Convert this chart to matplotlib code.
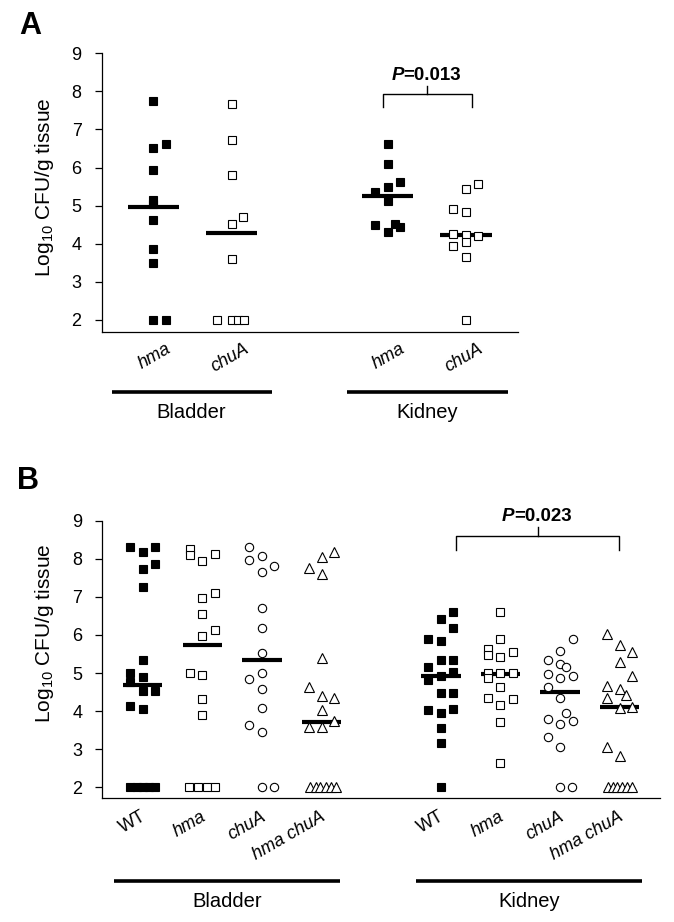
import matplotlib
matplotlib.use("Agg")
import matplotlib.pyplot as plt
import numpy as np

plt.rcParams['font.family'] = ['Liberation Sans', 'DejaVu Sans']
plt.rcParams['mathtext.fontset'] = 'custom'
plt.rcParams['mathtext.rm'] = 'Liberation Sans'
plt.rcParams['mathtext.it'] = 'Liberation Sans:italic'
plt.rcParams['mathtext.bf'] = 'Liberation Sans:bold'

# ---------------- Panel A data ----------------
a_groups = ["hma", "chuA", "hma", "chuA"]
a_organs = ["Bladder", "Kidney"]
a_positions = [0, 1, 3, 4]
a_markers = ["s_filled", "s_open", "s_filled", "s_open"]

a_bladder_hma = [7.75, 6.52, 6.61, 5.94, 5.15, 5.05, 4.62, 3.86, 3.50, 2.0, 2.0]
a_bladder_hma_dx = [0, 0, 0.16, 0, 0, 0, 0, 0, 0, 0, 0.16]
a_bladder_chua = [7.66, 6.72, 5.81, 4.52, 4.69, 3.60, 2.0, 2.0, 2.0, 2.0]
a_bladder_chua_dx = [0, 0, 0, 0, 0.15, 0, -0.18, 0, 0.08, 0.16]
a_kidney_hma = [6.62, 6.09, 5.50, 5.63, 5.35, 5.12, 4.50, 4.32, 4.52, 4.45]
a_kidney_hma_dx = [0, 0, 0, 0.16, -0.16, 0, -0.16, 0, 0.09, 0.16]
a_kidney_chua = [5.44, 5.56, 4.91, 4.82, 4.25, 4.22, 4.19, 3.95, 4.04, 3.66, 2.0]
a_kidney_chua_dx = [0, 0.16, -0.16, 0, -0.16, 0, 0.16, -0.16, 0, 0, 0]
a_medians = [4.96, 4.29, 5.26, 4.22]
a_pvalue = "0.013"

# ---------------- Panel B data ----------------
b_groups = ["WT", "hma", "chuA", "hma chuA", "WT", "hma", "chuA", "hma chuA"]
b_organs = ["Bladder", "Kidney"]
b_positions = [0, 1, 2, 3, 5, 6, 7, 8]

b_bladder_wt = [8.30, 8.30, 8.19, 7.86, 7.73, 7.26, 5.33, 5.01, 4.89, 4.77, 4.53, 4.53, 4.14, 4.05,
                2.0, 2.0, 2.0, 2.0, 2.0]
b_bladder_wt_dx = [-0.21, 0.21, 0, 0.21, 0, 0, 0, -0.21, 0, -0.21, 0, 0.21, -0.21, 0,
                   -0.21, -0.1, 0, 0.1, 0.21]
b_bladder_hma = [8.25, 8.10, 7.93, 8.13, 6.98, 7.09, 6.56, 5.97, 6.14, 4.99, 4.95, 4.33, 3.89,
                 2.0, 2.0, 2.0, 2.0]
b_bladder_hma_dx = [-0.21, -0.21, 0, 0.21, 0, 0.21, 0, 0, 0.21, -0.21, 0, 0, 0,
                    -0.22, -0.07, 0.07, 0.22]
b_bladder_chua = [8.32, 8.07, 7.96, 7.81, 7.64, 6.70, 6.19, 5.52, 5.01, 4.84, 4.57, 4.08, 3.63, 3.46,
                  2.0, 2.0]
b_bladder_chua_dx = [-0.21, 0, -0.21, 0.21, 0, 0, 0, 0, 0, -0.21, 0, 0, -0.21, 0,
                     0, 0.2]
b_bladder_hmachua = [8.17, 8.04, 7.77, 7.59, 5.39, 4.62, 4.40, 4.34, 4.03, 3.75, 3.59, 3.58,
                     2.0, 2.0, 2.0, 2.0, 2.0, 2.0]
b_bladder_hmachua_dx = [0.21, 0, -0.21, 0, 0, -0.21, 0, 0.21, 0, 0.21, -0.21, 0,
                        -0.19, -0.1, -0.02, 0.07, 0.16, 0.25]
b_kidney_wt = [6.60, 6.42, 6.18, 5.89, 5.85, 5.34, 5.34, 5.15, 4.82, 4.91, 5.02, 4.47, 4.47,
               4.03, 3.96, 4.05, 3.55, 3.16, 2.0]
b_kidney_wt_dx = [0.21, 0, 0.21, -0.21, 0, 0, 0.21, -0.21, -0.21, 0, 0.21, 0, 0.21,
                  -0.21, 0, 0.21, 0, 0, 0]
b_kidney_hma = [6.60, 5.90, 5.62, 5.48, 5.43, 5.55, 5.01, 4.99, 4.99, 4.86, 4.63, 4.34, 4.16, 4.31,
                3.71, 2.63]
b_kidney_hma_dx = [0, 0, -0.21, -0.21, 0, 0.21, -0.21, 0, 0.21, -0.21, 0, -0.21, 0, 0.21,
                   0, 0]
b_kidney_chua = [5.90, 5.59, 5.34, 5.24, 5.17, 4.98, 4.88, 4.91, 4.63, 4.34, 3.94, 3.79, 3.66, 3.75,
                 3.31, 3.05, 2.0, 2.0]
b_kidney_chua_dx = [0.21, 0, -0.21, 0, 0.1, -0.21, 0, 0.21, -0.21, 0, 0.1, -0.21, 0, 0.21,
                    -0.21, 0, 0, 0.2]
b_kidney_hmachua = [6.03, 5.74, 5.55, 5.30, 4.91, 4.66, 4.58, 4.34, 4.41, 4.09, 4.12, 3.07, 2.82,
                    2.0, 2.0, 2.0, 2.0, 2.0, 2.0]
b_kidney_hmachua_dx = [-0.21, 0, 0.21, 0, 0.21, -0.21, 0, -0.21, 0.1, 0, 0.21, -0.21, 0,
                       -0.2, -0.12, -0.04, 0.04, 0.12, 0.2]
b_medians = [4.68, 5.73, 5.34, 3.71, 4.93, 4.98, 4.51, 4.12]
b_pvalue = "0.023"

yticks = [2, 3, 4, 5, 6, 7, 8, 9]
ylabel = "Log$_{10}$ CFU/g tissue"

W, H = 674, 922
fig = plt.figure(figsize=(W / 100, H / 100), dpi=100)

def px_axes(left, right, top, bottom):
    return fig.add_axes([left / W, 1 - bottom / H, (right - left) / W, (bottom - top) / H])

MARK = {
    "s_filled": dict(marker="s", mfc="black", mec="black"),
    "s_open": dict(marker="s", mfc="white", mec="black"),
    "o_open": dict(marker="o", mfc="white", mec="black"),
    "t_open": dict(marker="^", mfc="white", mec="black"),
}

def style_axes(ax, ylim_bottom, xlim):
    ax.set_ylim(ylim_bottom, 9)
    ax.set_xlim(*xlim)
    for s in ["top", "right"]:
        ax.spines[s].set_visible(False)
    for s in ["left", "bottom"]:
        ax.spines[s].set_linewidth(0.9)
    ax.set_yticks(yticks)
    ax.set_yticklabels([str(t) for t in yticks], fontsize=13)
    ax.tick_params(axis="y", length=5, width=0.9, pad=9.5)
    ax.set_xticks([])

def draw_group(ax, pos, vals, dx, kind, ms, median, mw):
    xs = pos + np.array(dx)
    ax.plot([pos - mw, pos + mw], [median, median], color="black", lw=3, zorder=2,
            solid_capstyle="butt", clip_on=False)
    ax.plot(xs, vals, linestyle="none", ms=ms, mew=0.8, zorder=3, clip_on=False, **MARK[kind])

def tick_labels(ax, positions, labels, dxpt, dypt):
    for p, lab in zip(positions, labels):
        ax.annotate(lab, xy=(p, 0), xycoords=("data", "axes fraction"),
                    xytext=(dxpt, dypt), textcoords="offset points",
                    ha="right", va="top", rotation=30, rotation_mode="anchor",
                    fontsize=13, style="italic" if lab != "WT" else "normal",
                    annotation_clip=False)

def organ_bars(ax, spans, labels, ybar, ytext):
    for (x0, x1), lab in zip(spans, labels):
        ax.plot([x0, x1], [ybar, ybar], transform=ax.get_xaxis_transform(),
                color="black", lw=2.6, clip_on=False, solid_capstyle="butt")
        ax.text((x0 + x1) / 2, ytext, lab, transform=ax.get_xaxis_transform(),
                ha="center", va="baseline", fontsize=14.5)

def bracket(ax, x0, x1, ytop, ylow, yknob, ytext, ptxt):
    ax.plot([x0, x0, x1, x1], [ylow, ytop, ytop, ylow], color="black", lw=1.0, clip_on=False)
    xm = (x0 + x1) / 2
    ax.plot([xm, xm], [ytop, yknob], color="black", lw=1.0, clip_on=False)
    ax.annotate("P", xy=(xm, ytext), xytext=(-17, 0), textcoords="offset points",
                ha="right", va="center", fontsize=13.5, fontweight="bold", style="italic",
                annotation_clip=False)
    ax.annotate("=" + ptxt, xy=(xm, ytext), xytext=(-17, 0), textcoords="offset points",
                ha="left", va="center", fontsize=13.5, fontweight="bold",
                annotation_clip=False)

# ---------------- Panel A ----------------
axA = px_axes(101.7, 518.3, 53.3, 331.7)
style_axes(axA, 1.69, (-0.662, 4.672))
a_data = [(a_bladder_hma, a_bladder_hma_dx), (a_bladder_chua, a_bladder_chua_dx),
          (a_kidney_hma, a_kidney_hma_dx), (a_kidney_chua, a_kidney_chua_dx)]
for pos, (v, d), kind, med in zip(a_positions, a_data, a_markers, a_medians):
    draw_group(axA, pos, v, d, kind, 5.6, med, 0.33)
tick_labels(axA, a_positions, a_groups, 8.6, -5.8)
organ_bars(axA, [(-0.534, 1.514), (2.482, 4.536)], a_organs, -0.2166, -0.31)
bracket(axA, 2.936, 4.079, 7.93, 7.60, 8.14, 8.43, a_pvalue)

# ---------------- Panel B ----------------
axB = px_axes(102.3, 660.0, 520.7, 798.3)
style_axes(axB, 1.71, (-0.678, 8.676))
b_data = [(b_bladder_wt, b_bladder_wt_dx), (b_bladder_hma, b_bladder_hma_dx),
          (b_bladder_chua, b_bladder_chua_dx), (b_bladder_hmachua, b_bladder_hmachua_dx),
          (b_kidney_wt, b_kidney_wt_dx), (b_kidney_hma, b_kidney_hma_dx),
          (b_kidney_chua, b_kidney_chua_dx), (b_kidney_hmachua, b_kidney_hmachua_dx)]
b_markers = ["s_filled", "s_open", "o_open", "t_open"] * 2
b_ms = {"s_filled": 6.0, "s_open": 6.0, "o_open": 6.0, "t_open": 6.6}
for pos, (v, d), kind, med in zip(b_positions, b_data, b_markers, b_medians):
    draw_group(axB, pos, v, d, kind, b_ms[kind], med, 0.33)
tick_labels(axB, b_positions, b_groups, -1.4, -7)
organ_bars(axB, [(-0.476, 3.309), (4.584, 8.369)], b_organs, -0.298, -0.3905)
bracket(axB, 5.255, 7.988, 8.606, 8.23, 8.84, 9.105, b_pvalue)

# y labels and panel letters
fig.text(45 / W, 1 - 187 / H, ylabel, rotation=90, ha="center", va="center", fontsize=15)
fig.text(45 / W, 1 - 633 / H, ylabel, rotation=90, ha="center", va="center", fontsize=15)
fig.text(30 / W, 1 - 26 / H, "A", ha="center", va="center", fontsize=22, fontweight="bold")
fig.text(28 / W, 1 - 481 / H, "B", ha="center", va="center", fontsize=22, fontweight="bold")

fig.savefig("out.png", dpi=100)
